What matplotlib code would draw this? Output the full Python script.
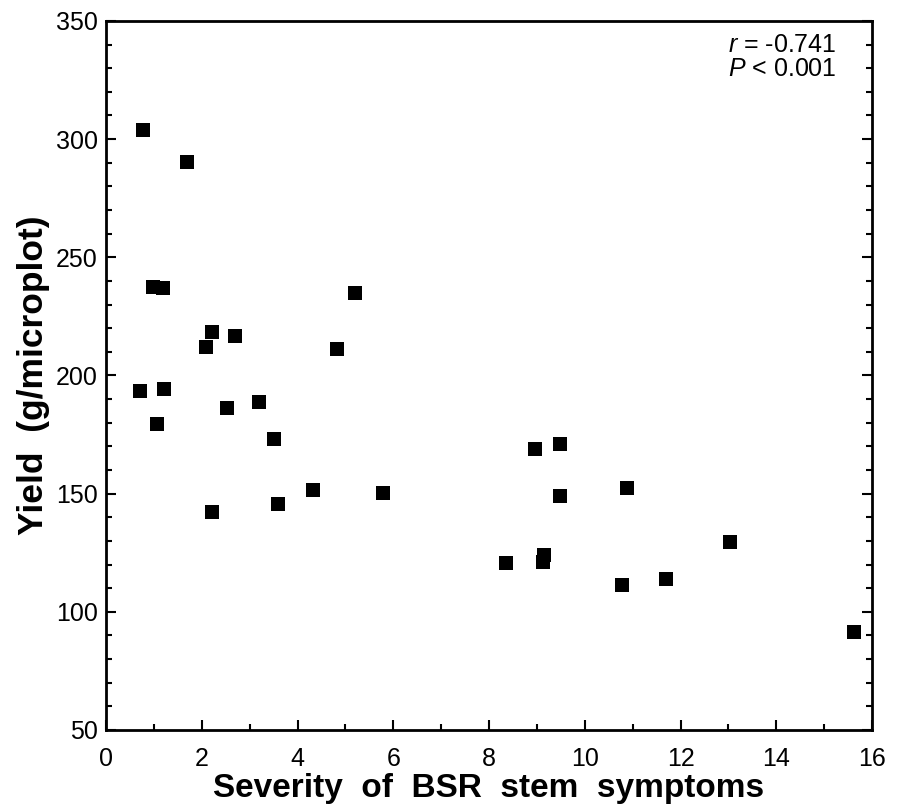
import numpy as np
import matplotlib.pyplot as plt
from matplotlib.ticker import MultipleLocator

plt.rcParams['font.family'] = ['Liberation Sans', 'DejaVu Sans']
plt.rcParams['mathtext.fontset'] = 'custom'
plt.rcParams['mathtext.it'] = 'Liberation Sans:italic'
plt.rcParams['mathtext.rm'] = 'Liberation Sans'

# Severidad de síntomas vs rendimiento
severity = [0.77, 1.69, 0.98, 1.19, 5.20, 2.21, 2.09, 2.69, 4.83, 0.71,
            1.21, 1.06, 2.53, 3.20, 3.51, 2.21, 3.59, 4.32, 5.79, 8.96,
            9.48, 9.48, 10.88, 8.36, 9.15, 9.12, 10.78, 13.03, 11.70, 15.62]
yield_g = [304, 290.5, 237.5, 237, 235, 218.4, 212, 216.7, 211.2, 193.4,
           194.3, 179.5, 186.2, 188.8, 173, 142.2, 145.6, 151.5, 150.3, 169,
           171, 149, 152.4, 120.6, 124.1, 121.1, 111.3, 129.5, 114, 91.4]

fig = plt.figure(figsize=(9, 8.06), dpi=100)
ax = fig.add_axes([0.1178, 0.0943, 0.8511, 0.8797])

ax.scatter(severity, yield_g, marker='s', s=110, color='black', linewidths=0)

ax.set_xlim(0, 16)
ax.set_ylim(50, 350)
ax.xaxis.set_major_locator(MultipleLocator(2))
ax.xaxis.set_minor_locator(MultipleLocator(1))
ax.yaxis.set_major_locator(MultipleLocator(50))
ax.yaxis.set_minor_locator(MultipleLocator(10))
ax.tick_params(which='both', direction='in', right=True, width=1.5, labelsize=18)
ax.tick_params(axis='x', pad=12)
ax.tick_params(axis='y', pad=6)
ax.tick_params(which='major', length=7)
ax.tick_params(which='minor', length=4)
for s in ax.spines.values():
    s.set_linewidth(2)

ax.set_xlabel('Severity  of  BSR  stem  symptoms', fontsize=24, fontweight='bold', labelpad=2)
ax.set_ylabel('Yield  (g/microplot)', fontsize=25.5, fontweight='bold', labelpad=4)

ax.text(0.953, 0.983, '$\\it{r}$ = -0.741\n$\\it{P}$ < 0.001', transform=ax.transAxes,
        ha='right', va='top', fontsize=18, linespacing=1.0)

plt.savefig('out.png', dpi=100)
